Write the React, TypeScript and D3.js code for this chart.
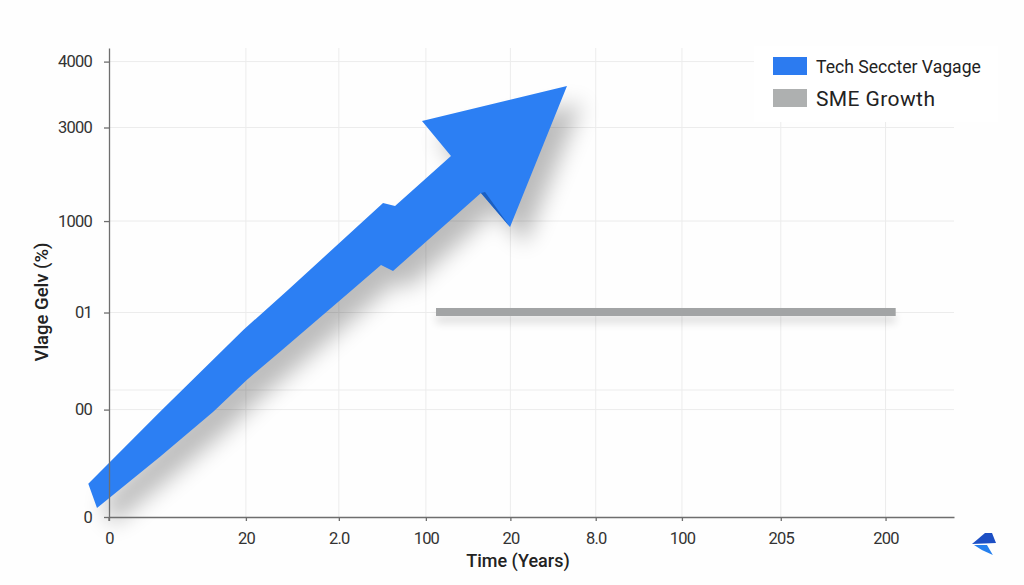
import { useEffect, useRef } from "react";
import * as d3 from "d3";

const xTickValues = [0, 16.2, 27.2, 37.5, 47.5, 57.6, 67.8, 79.5, 91.9];
const xTickLabels = ["0", "20", "2.0", "100", "20", "8.0", "100", "205", "200"];
const yTickValues = [0, 22.9, 43.6, 63.1, 83.05, 97.1];
const yTickLabels = ["0", "00", "01", "1000", "3000", "4000"];
// one faint grid line has no tick of its own
const extraGridY = [27.08];

// outline of the blue arrow, walked clockwise from the tail
const techX = [-2.45, 6.04, 15.89, 21.18, 32.43, 33.85, 40.47, 37.04, 54.2, 47.46, 44.02, 33.61, 32.19, 28.76, 20.24, 16.3, 12.34, 6.04, -1.42];
const techY = [7.1, 22.45, 39.87, 48.4, 66.95, 66.31, 76.97, 84.43, 91.9, 61.83, 69.08, 52.45, 53.73, 48.4, 35.25, 29.21, 22.45, 12.86, 1.92];
const foldX = [44.02, 44.5, 47.46];
const foldY = [69.08, 69.3, 61.83];
const smeX = [38.7, 93.1];
const smeY = [43.7, 43.7];

// little bolt in the corner
const boltTopX = [102.13, 103.67, 104.5, 104.97];
const boltTopY = [-5.76, -3.41, -3.41, -5.54];
const boltLowX = [102.37, 103.9, 104.6, 103.3];
const boltLowY = [-5.97, -5.97, -8.1, -7.04];

const legendLabels = ["Tech Seccter Vagage", "SME Growth"];
const legendColors = ["#2c7bf0", "#aeb0b0"];

const FONT = "Roboto, sans-serif";

export default function App() {
  const ref = useRef<SVGSVGElement>(null);

  useEffect(() => {
    const root = d3.select(ref.current);
    root.selectAll("*").remove();

    const x = d3.scaleLinear().domain([0, 100]).range([109, 954]);
    const y = d3.scaleLinear().domain([0, 100]).range([517, 48]);

    const defs = root.append("defs");
    const blur = defs.append("filter").attr("id", "shadow").attr("x", "-20%").attr("y", "-20%").attr("width", "150%").attr("height", "150%");
    blur.append("feGaussianBlur").attr("stdDeviation", 11);
    const barBlur = defs
      .append("filter")
      .attr("id", "barShadow")
      .attr("filterUnits", "userSpaceOnUse")
      .attr("x", 400)
      .attr("y", 280)
      .attr("width", 540)
      .attr("height", 80);
    barBlur.append("feGaussianBlur").attr("stdDeviation", 4);

    root.append("rect").attr("width", 1024).attr("height", 585).attr("fill", "#fefefe");

    // grid
    const grid = root.append("g").attr("stroke", "#ececec").attr("stroke-width", 1);
    grid
      .selectAll("line.h")
      .data(yTickValues.slice(1).concat(extraGridY))
      .enter()
      .append("line")
      .attr("x1", x(0))
      .attr("x2", x(100))
      .attr("y1", d => y(d))
      .attr("y2", d => y(d));
    grid
      .selectAll("line.v")
      .data(xTickValues.slice(1))
      .enter()
      .append("line")
      .attr("x1", d => x(d))
      .attr("x2", d => x(d))
      .attr("y1", y(100))
      .attr("y2", y(0));

    // legend sits on a white panel that hides the grid
    root
      .append("rect")
      .attr("x", 754)
      .attr("y", 46)
      .attr("width", 244)
      .attr("height", 76)
      .attr("fill", "#ffffff");

    const points = (xs: number[], ys: number[]) => xs.map((d, i) => [x(d), y(ys[i])] as [number, number]);
    const line = d3.line();

    // arrow
    root
      .append("path")
      .attr("d", line(points(techX, techY)) + "Z")
      .attr("fill", "#000000")
      .attr("opacity", 0.26)
      .attr("transform", "translate(15,17)")
      .attr("filter", "url(#shadow)");
    root
      .append("path")
      .attr("d", line(points(techX, techY)) + "Z")
      .attr("fill", "#2c7ff3");
    root
      .append("path")
      .attr("d", line(points(foldX, foldY)) + "Z")
      .attr("fill", "#1c5fc0");

    // SME bar
    root
      .append("path")
      .attr("d", line(points(smeX, smeY)))
      .attr("stroke", "#000000")
      .attr("stroke-width", 8)
      .attr("opacity", 0.13)
      .attr("transform", "translate(0,7)")
      .attr("filter", "url(#barShadow)");
    root
      .append("path")
      .attr("d", line(points(smeX, smeY)))
      .attr("stroke", "#a2a4a5")
      .attr("stroke-width", 8);

    // axes
    const xAxis = root
      .append("g")
      .attr("transform", `translate(0,${y(0)})`)
      .call(
        d3
          .axisBottom(x)
          .tickValues(xTickValues)
          .tickFormat((_, i) => xTickLabels[i])
          .tickSize(4)
          .tickSizeOuter(0)
          .tickPadding(11)
      );
    const yAxis = root
      .append("g")
      .attr("transform", `translate(${x(0)},0)`)
      .call(
        d3
          .axisLeft(y)
          .tickValues(yTickValues)
          .tickFormat((_, i) => yTickLabels[i])
          .tickSize(5)
          .tickSizeOuter(0)
          .tickPadding(12)
      );
    [xAxis, yAxis].forEach(a => {
      a.selectAll("path,line").attr("stroke", "#6e6e6e").attr("stroke-width", 1.3);
      a.selectAll("text")
        .attr("font-family", FONT)
        .attr("font-size", 16.5)
        .attr("letter-spacing", -0.8)
        .attr("fill", "#333333");
    });

    // axis stubs past the origin
    root.append("line").attr("x1", x(0)).attr("x2", x(0)).attr("y1", y(0)).attr("y2", y(0) + 4).attr("stroke", "#6e6e6e").attr("stroke-width", 1.3);

    // titles
    root
      .append("text")
      .attr("x", 518)
      .attr("y", 567)
      .attr("text-anchor", "middle")
      .attr("font-family", FONT)
      .attr("font-size", 18)
      .attr("font-weight", 500)
      .attr("fill", "#222222")
      .text("Time (Years)");
    root
      .append("text")
      .attr("transform", "translate(48,302) rotate(-90)")
      .attr("text-anchor", "middle")
      .attr("font-family", FONT)
      .attr("font-size", 18.5)
      .attr("font-weight", 500)
      .attr("fill", "#222222")
      .text("Vlage Gelv (%)");

    // legend
    const legend = root
      .selectAll("g.legend")
      .data(legendLabels)
      .enter()
      .append("g")
      .attr("transform", (_, i) => `translate(773,${57 + i * 32})`);
    legend
      .append("rect")
      .attr("width", 34)
      .attr("height", 18)
      .attr("fill", (_, i) => legendColors[i]);
    legend
      .append("text")
      .attr("x", 43)
      .attr("y", (_, i) => (i === 0 ? 16 : 17))
      .attr("font-family", FONT)
      .attr("font-size", (_, i) => (i === 0 ? 17.6 : 21))
      .attr("letter-spacing", (_, i) => (i === 0 ? 0 : 0.4))
      .attr("fill", "#222222")
      .text(d => d);

    // corner logo
    root.append("path").attr("d", line(points(boltTopX, boltTopY)) + "Z").attr("fill", "#1d4fc4");
    root.append("path").attr("d", line(points(boltLowX, boltLowY)) + "Z").attr("fill", "#2680ee");
  }, []);

  return <svg ref={ref} width={1024} height={585} style={{ position: "absolute", left: 0, top: 0 }} />;
}
